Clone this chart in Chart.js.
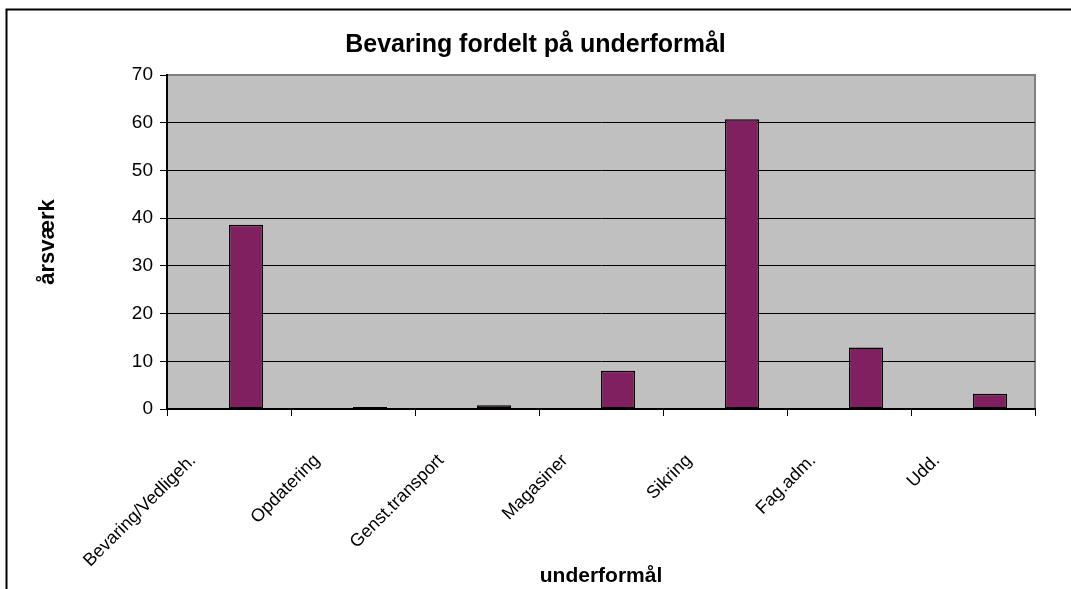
<!DOCTYPE html>
<html>
<head>
<meta charset="utf-8">
<script src="https://cdn.jsdelivr.net/npm/chart.js@4/dist/chart.umd.min.js"></script>
<style>
  html, body { margin: 0; padding: 0; background: #fff; }
  #wrap { width: 1071px; height: 589px; }
</style>
</head>
<body>
<div id="wrap"><canvas id="chart" width="1071" height="589"></canvas></div>
<script>
// data
const categories = ["Bevaring/Vedligeh.", "Opdatering", "Genst.transport", "Magasiner", "Sikring", "Fag.adm.", "Udd."];
const arsvaerk = [38.6, 0.4, 0.8, 8.0, 60.7, 12.9, 3.2];
// the original chart has an empty first series, which pushes the bars right of centre
const emptySeries = [null, null, null, null, null, null, null];
const yTicks = [0, 10, 20, 30, 40, 50, 60, 70];

const FONT = "'Liberation Sans', Arial, sans-serif";

//gray plot area, gray top/right edge and the outer frame
const backdrop = {
  id: "backdrop",
  beforeDraw(chart) {
    const ctx = chart.ctx;
    const a = chart.chartArea;
    ctx.save();
    ctx.fillStyle = "#c0c0c0";
    ctx.fillRect(a.left, a.top, a.right - a.left, a.bottom - a.top);
    ctx.strokeStyle = "#808080";
    ctx.lineWidth = 2;
    ctx.beginPath();
    ctx.moveTo(a.left, a.top);
    ctx.lineTo(a.right, a.top);
    ctx.lineTo(a.right, a.bottom);
    ctx.stroke();
    ctx.strokeStyle = "#000";
    ctx.lineWidth = 2;
    ctx.strokeRect(6.5, 9.5, chart.width + 20, chart.height + 20);
    ctx.restore();
  },
};

new Chart(document.getElementById("chart"), {
  type: "bar",
  data: {
    labels: categories,
    datasets: [
      { label: "", data: emptySeries },
      {
        label: "årsværk",
        data: arsvaerk,
        backgroundColor: "#802060",
        borderColor: "#000",
        borderWidth: 1.5,
        borderSkipped: false,
      },
    ],
  },
  options: {
    responsive: false,
    animation: false,
    events: [],
    layout: { padding: 0 },
    datasets: {
      bar: { categoryPercentage: 0.55, barPercentage: 1 },
    },
    plugins: {
      legend: { display: false },
      tooltip: { enabled: false },
      title: {
        display: true,
        text: "Bevaring fordelt på underformål",
        color: "#000",
        font: { family: FONT, size: 25, weight: "bold" },
        padding: { top: 30, bottom: 15 },
      },
    },
    scales: {
      x: {
        afterFit(scale) {
          scale.height = 180;
          scale.paddingRight = 36;
        },
        border: { display: true, color: "#000", width: 2 },
        grid: {
          offset: true,
          drawOnChartArea: false,
          drawTicks: true,
          tickLength: 7,
          color: "#000",
          tickColor: "#000",
        },
        ticks: {
          autoSkip: false,
          minRotation: 45,
          maxRotation: 45,
          labelOffset: -36,
          padding: 34,
          color: "#000",
          font: { family: FONT, size: 18 },
        },
        title: {
          display: true,
          text: "underformål",
          color: "#000",
          font: { family: FONT, size: 21, weight: "bold" },
          padding: { top: 0, bottom: 0 },
        },
      },
      y: {
        min: yTicks[0],
        max: yTicks[yTicks.length - 1],
        afterFit(scale) {
          scale.width = 167;
        },
        afterBuildTicks(scale) {
          scale.ticks = yTicks.map((v) => ({ value: v }));
        },
        border: { display: true, color: "#000", width: 2 },
        grid: {
          color: (c) => (c.tick && c.tick.value === 70 ? "rgba(0,0,0,0)" : "#000"),
          tickColor: "#000",
          lineWidth: 1,
          tickLength: 7,
        },
        ticks: {
          padding: 7,
          color: "#000",
          font: { family: FONT, size: 19 },
        },
        title: {
          display: true,
          text: "årsværk",
          color: "#000",
          font: { family: FONT, size: 22, weight: "bold" },
          padding: { top: 35, bottom: 0 },
        },
      },
    },
  },
  plugins: [backdrop],
});
</script>
</body>
</html>
